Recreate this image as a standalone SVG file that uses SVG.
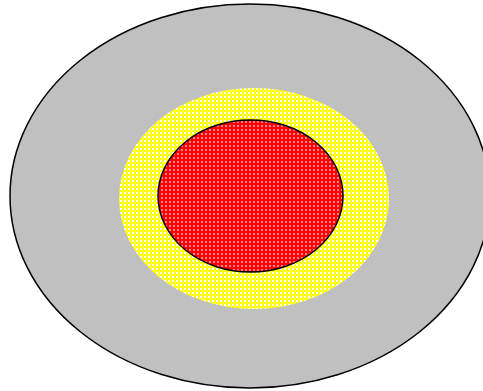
<svg xmlns="http://www.w3.org/2000/svg" width="483" height="391" viewBox="0 0 483 391">
<defs>
<pattern id="py" width="4" height="4" patternUnits="userSpaceOnUse">
<rect width="4" height="4" fill="#ffff00"/>
<rect x="0" y="0" width="2" height="2" fill="#ffffff"/>
<rect x="2.5" y="2.5" width="1" height="1" fill="#ffffcc"/>
</pattern>
<pattern id="pr" width="4" height="4" patternUnits="userSpaceOnUse">
<rect width="4" height="4" fill="#ff0000"/>
<rect x="1" y="1" width="2" height="2" fill="#ff6060"/>
<rect x="1.5" y="1.5" width="1" height="1" fill="#ffffff"/>
</pattern>
<style>.s{stroke:#000;stroke-width:1.5}</style>
</defs>
<rect width="483" height="391" fill="#fff"/>
<g id="outer"><ellipse class="s" cx="250" cy="196" rx="240" ry="192" fill="#c0c0c0"/></g>
<g id="middle"><ellipse cx="254" cy="198.5" rx="135" ry="110.5" fill="url(#py)"/></g>
<g id="inner"><ellipse class="s" cx="250.5" cy="196" rx="92.5" ry="76" fill="url(#pr)"/></g>
<g id="connectors"/>
</svg>
